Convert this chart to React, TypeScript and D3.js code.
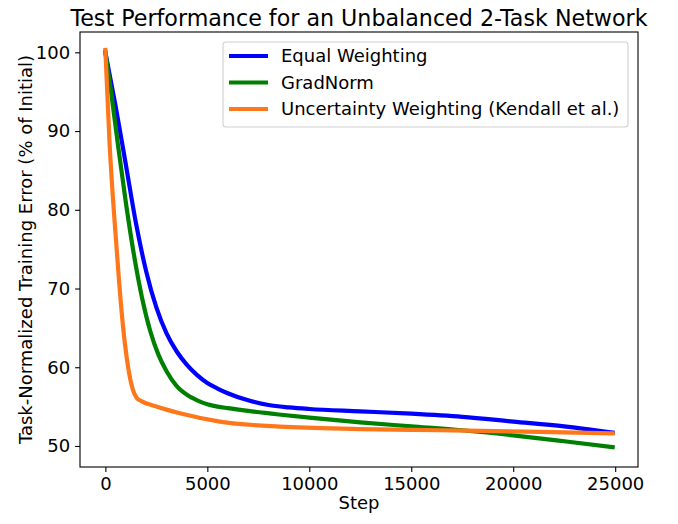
import React, { useRef, useEffect } from 'react';
import * as d3 from 'd3';

const width = 678;
const height = 524;

const equalSteps = [0, 500, 1000, 1500, 2000, 2500, 3000, 3500, 4000, 4500, 5000, 5500, 6000, 7000, 8000, 9000, 10000, 12500, 15000, 17500, 20000, 22500, 24875];
const equalValues = [100, 93.2, 85.8, 78.3, 72.2, 67.6, 64.3, 62.0, 60.3, 59.0, 58.0, 57.3, 56.7, 55.8, 55.2, 54.9, 54.7, 54.4, 54.1, 53.7, 53.1, 52.5, 51.7];

const gradSteps = [0, 300, 620, 1000, 1400, 1800, 2200, 2600, 3000, 3500, 4000, 4500, 5000, 5500, 6000, 7000, 8500, 10000, 12500, 15000, 17500, 20000, 22500, 24875];
const gradValues = [100, 94.6, 88.2, 81.0, 74.3, 68.8, 64.6, 61.6, 59.5, 57.6, 56.5, 55.8, 55.3, 55.0, 54.8, 54.45, 54.0, 53.6, 53.0, 52.5, 52.0, 51.35, 50.6, 49.85];

const uncSteps = [0, 211, 370, 540, 667, 865, 1110, 1355, 1540, 1765, 2500, 3650, 5610, 8550, 12480, 16400, 21300, 24875];
const uncValues = [100.3, 88.2, 81.5, 75.5, 71.1, 65.2, 60.1, 57.1, 56.1, 55.7, 55.0, 54.15, 53.1, 52.45, 52.15, 52.0, 51.8, 51.6];

const seriesNames = ['Equal Weighting', 'GradNorm', 'Uncertainty Weighting (Kendall et al.)'];
const seriesColors = ['#0000ff', '#008000', '#ff771b'];

const xTicks = [0, 5000, 10000, 15000, 20000, 25000];
const yTicks = [50, 60, 70, 80, 90, 100];

const App: React.FC = () => {
  const svgRef = useRef<SVGSVGElement>(null);

  useEffect(() => {
    if (!svgRef.current) return;
    const svg = d3.select(svgRef.current);
    svg.selectAll('*').remove();

    const margin = { top: 32, right: 40, bottom: 57, left: 80 };
    const innerWidth = width - margin.left - margin.right;
    const innerHeight = height - margin.top - margin.bottom;
    const font = '"DejaVu Sans", sans-serif';
    const fontSize = '18px';

    const g = svg.append('g').attr('transform', `translate(${margin.left},${margin.top})`);

    const xScale = d3.scaleLinear().domain([-1244, 26119]).range([0, innerWidth]);
    const yScale = d3.scaleLinear().domain([47.33, 102.58]).range([innerHeight, 0]);

    const series = [
      { steps: equalSteps, values: equalValues },
      { steps: gradSteps, values: gradValues },
      { steps: uncSteps, values: uncValues },
    ];

    const line = d3.line<[number, number]>()
      .x(d => xScale(d[0]))
      .y(d => yScale(d[1]))
      .curve(d3.curveMonotoneX);

    series.forEach((s, i) => {
      const pts = s.steps.map((st, j) => [st, s.values[j]] as [number, number]);
      g.append('path')
        .attr('d', line(pts))
        .attr('fill', 'none')
        .attr('stroke', seriesColors[i])
        .attr('stroke-width', 4.2)
        .attr('stroke-linecap', 'square')
        .attr('stroke-linejoin', 'round');
    });

    const xAxis = d3.axisBottom(xScale).tickValues(xTicks).tickSize(4.9).tickPadding(4.9).tickFormat(d => `${d}`);
    const xg = g.append('g').attr('transform', `translate(0,${innerHeight})`).call(xAxis);
    const yAxis = d3.axisLeft(yScale).tickValues(yTicks).tickSize(4.9).tickPadding(4.9).tickFormat(d => `${d}`);
    const yg = g.append('g').call(yAxis);

    [xg, yg].forEach(ax => {
      ax.select('.domain').remove();
      ax.selectAll('line').attr('stroke', '#000').attr('stroke-width', 1.1);
      ax.selectAll('text').attr('fill', '#000').style('font-family', font).style('font-size', fontSize);
    });

    g.append('rect')
      .attr('x', 0)
      .attr('y', 0)
      .attr('width', innerWidth)
      .attr('height', innerHeight)
      .attr('fill', 'none')
      .attr('stroke', '#000')
      .attr('stroke-width', 1.1);

    svg.append('text')
      .attr('x', margin.left + innerWidth / 2)
      .attr('y', 26)
      .attr('text-anchor', 'middle')
      .style('font-family', font)
      .style('font-size', '22.2px')
      .text('Test Performance for an Unbalanced 2-Task Network');

    svg.append('text')
      .attr('x', margin.left + innerWidth / 2)
      .attr('y', 509)
      .attr('text-anchor', 'middle')
      .style('font-family', font)
      .style('font-size', fontSize)
      .text('Step');

    svg.append('text')
      .attr('transform', `translate(32,${margin.top + innerHeight / 2}) rotate(-90)`)
      .attr('text-anchor', 'middle')
      .style('font-family', font)
      .style('font-size', fontSize)
      .text('Task-Normalized Training Error (% of Initial)');

    // legend
    const legend = svg.append('g').attr('transform', 'translate(223,42)');
    legend.append('rect')
      .attr('width', 405)
      .attr('height', 85)
      .attr('rx', 3)
      .attr('fill', 'rgba(255,255,255,0.8)')
      .attr('stroke', '#d0d0d0')
      .attr('stroke-width', 1.1);

    seriesNames.forEach((name, i) => {
      const y = 14 + i * 26.5;
      legend.append('line')
        .attr('x1', 6)
        .attr('x2', 45)
        .attr('y1', y)
        .attr('y2', y)
        .attr('stroke', seriesColors[i])
        .attr('stroke-width', 4.2);
      legend.append('text')
        .attr('x', 58)
        .attr('y', y)
        .attr('dy', '0.36em')
        .style('font-family', font)
        .style('font-size', fontSize)
        .text(name);
    });
  }, []);

  return (
    <svg
      ref={svgRef}
      width={width}
      height={height}
      style={{ position: 'absolute', left: 0, top: 0, background: '#fff' }}
    />
  );
};

export default App;
